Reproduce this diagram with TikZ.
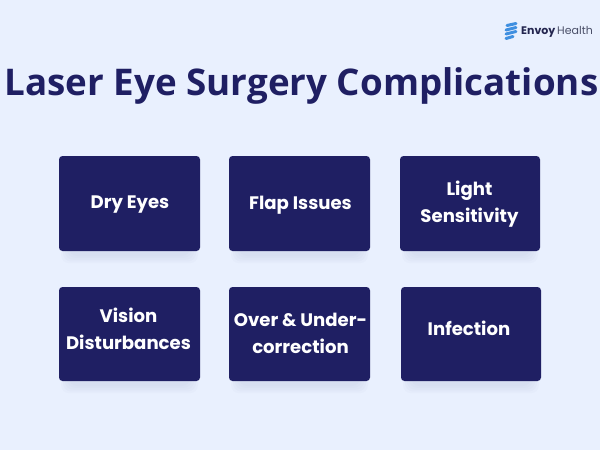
\documentclass[tikz,border=0pt]{standalone}
\usepackage{fontspec}
\setmainfont{Poppins}
\newfontfamily\titlefont{Open Sans}
\definecolor{bgc}{HTML}{E9F0FE}
\definecolor{navy}{HTML}{1F1F63}
\definecolor{shadowc}{HTML}{9AA3C8}
\definecolor{logoblue}{HTML}{3F8FE0}
\definecolor{logodark}{HTML}{23254F}
\definecolor{logogray}{HTML}{4A4F68}
\tikzset{
  card/.style={fill=navy,rounded corners=3.5pt,draw=none},
  cardlabel/.style={text=white,align=center,font=\fontsize{18.1}{27}\selectfont\bfseries},
  softshadow/.style={fill=shadowc,fill opacity=0.045,draw=none,rounded corners=8pt},
  stripe/.style={draw=logoblue,line width=3pt,line cap=round}
}
\newcommand{\cardat}[8]{%
  \foreach \g in {0,2,4,6,8}{
    \fill[softshadow] (#2+10-\g,-#5+14-\g) rectangle (#4-10+\g,-#5-5-\g*0.9);
  }
  \fill[card] (#2,-#3) rectangle (#4,-#5);
  \node[cardlabel] (#1) at ({#8},{-#6}) {#7};
}
\begin{document}
\begin{tikzpicture}[x=1pt,y=1pt]
\useasboundingbox (0,-450) rectangle (600,0);
\fill[bgc] (0,-450) rectangle (600,0);
\node[text=navy,font=\titlefont\fontsize{36.75}{40}\selectfont\bfseries,inner sep=0pt,anchor=base] (title) at (301.5,-95) {Laser Eye Surgery Complications};
\cardat{a}{59}{156}{200}{251}{205}{Dry Eyes}{130}
\cardat{b}{229}{156}{370}{251}{205}{Flap Issues}{300.5}
\cardat{c}{400}{156}{540}{251}{204.5}{Light\\Sensitivity}{469.5}
\cardat{d}{59}{287}{200}{381}{329}{Vision\\Disturbances}{128.5}
\cardat{e}{229}{287}{370}{381}{333}{Over \& Under-\\correction}{300.5}
\cardat{f}{401}{287}{541}{381}{328}{Infection}{469}
% logo
\draw[stripe] (507,-25.5) -- (516,-23.5);
\draw[stripe] (506,-30) -- (516,-27.5);
\draw[stripe] (506,-34) -- (516,-31.5);
\draw[stripe] (506,-38.5) -- (513,-36.5);
\node[anchor=west,inner sep=0pt,font=\fontsize{11}{12}\selectfont] (logo) at (521,-31.5) {\textcolor{logodark}{\bfseries Envoy}\textcolor{logogray}{\,Health}};
\end{tikzpicture}
\end{document}
